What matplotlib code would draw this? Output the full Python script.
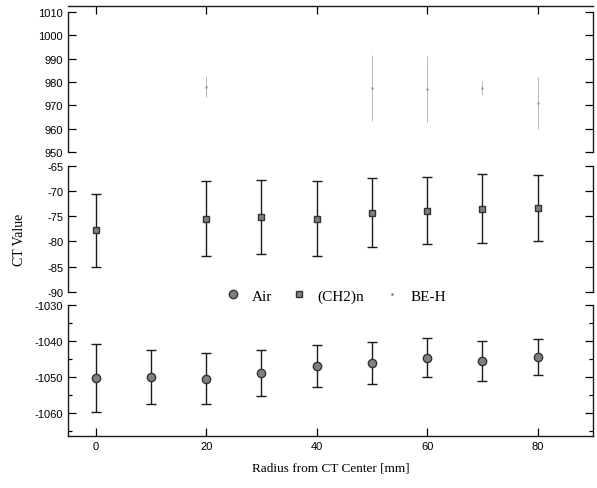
import matplotlib
matplotlib.use('Agg')
from matplotlib import pyplot as plt
from matplotlib.lines import Line2D

plt.rcParams['axes.unicode_minus'] = False

# Air (circles, bottom panel)
air_x = [0, 10, 20, 30, 40, 50, 60, 70, 80]
air_y = [-1050.2, -1049.9, -1050.4, -1048.8, -1046.9, -1046.1, -1044.6, -1045.5, -1044.4]
air_err = [9.4, 7.5, 7.0, 6.4, 5.9, 5.9, 5.4, 5.6, 4.9]

# (CH2)n (squares, middle panel)
ch2_x = [0, 20, 30, 40, 50, 60, 70, 80]
ch2_y = [-77.8, -75.5, -75.2, -75.5, -74.3, -73.9, -73.5, -73.4]
ch2_err = [7.2, 7.5, 7.3, 7.4, 6.9, 6.6, 6.8, 6.5]

# BE-H (faint dots, top panel)
beh_x = [20, 50, 60, 70, 80]
beh_y = [978.0, 977.5, 977.0, 977.3, 971.0]
beh_err = [4.5, 14.0, 14.0, 3.0, 11.0]

tick_font = {'family': 'Liberation Sans', 'size': 8}
serif = 'Liberation Serif'

fig = plt.figure(figsize=(5.97, 4.89), dpi=100)
left, width = 68 / 597, 525 / 597
ax_top = fig.add_axes([left, 0.6865, width, 0.2992])
ax_mid = fig.add_axes([left, 0.4014, width, 0.2577])
ax_bot = fig.add_axes([left, 0.1063, width, 0.2679])

ax_top.errorbar(beh_x, beh_y, yerr=beh_err, fmt='.', color='0.55', ms=2,
                elinewidth=0.7, capsize=0, ls='none', alpha=0.6)
ax_mid.errorbar(ch2_x, ch2_y, yerr=ch2_err, fmt='s', mfc='0.5', mec='0.2',
                ms=5, ecolor='0.1', elinewidth=1.0, capsize=3.5, capthick=1.0)
ax_bot.errorbar(air_x, air_y, yerr=air_err, fmt='o', mfc='0.5', mec='0.2',
                ms=6, ecolor='0.1', elinewidth=1.0, capsize=3.5, capthick=1.0)

ax_top.set_ylim(950, 1012.5)
ax_top.set_yticks(range(950, 1011, 10))
ax_mid.set_ylim(-90, -65)
ax_mid.set_yticks(range(-90, -64, 5))
ax_bot.set_ylim(-1066.3, -1030)
ax_bot.set_yticks(range(-1060, -1029, 10))
ax_bot.set_yticks(range(-1065, -1029, 5), minor=True)

for a in [ax_top, ax_mid, ax_bot]:
    a.set_xlim(-5, 90)
    a.set_xticks(range(0, 81, 20))
    a.tick_params(which='both', direction='in', left=True, right=True,
                  top=False, bottom=False, labelbottom=False, width=0.9)
    a.tick_params(which='major', length=6)
    a.tick_params(which='minor', length=3)
    for s in a.spines.values():
        s.set_linewidth(1.0)
        s.set_color('0.1')
    for lbl in a.get_yticklabels():
        lbl.set_fontfamily(tick_font['family'])
        lbl.set_fontsize(tick_font['size'])
    a.spines['top'].set_visible(False)
    a.spines['bottom'].set_visible(False)

ax_top.spines['top'].set_visible(True)
ax_top.tick_params(top=True)
ax_top.spines['left'].set_bounds(950, 1010)
ax_top.spines['right'].set_bounds(950, 1010)

ax_bot.spines['bottom'].set_visible(True)
ax_bot.tick_params(bottom=True, labelbottom=True)
for lbl in ax_bot.get_xticklabels():
    lbl.set_fontfamily(tick_font['family'])
    lbl.set_fontsize(tick_font['size'])
ax_bot.set_xlabel('Radius from CT Center [mm]', family=serif, fontsize=9.5, labelpad=8)
fig.text(0.032, 0.51, 'CT Value', rotation=90, family=serif, fontsize=10,
         ha='center', va='center')

handles = [
    Line2D([], [], marker='o', ls='none', mfc='0.5', mec='0.2', ms=6),
    Line2D([], [], marker='s', ls='none', mfc='0.5', mec='0.2', ms=5),
    Line2D([], [], marker='.', ls='none', color='0.55', ms=2),
]
fig.legend(handles, ['Air', '(CH2)n', 'BE-H'], loc='center', ncol=3,
           bbox_to_anchor=(0.561, 0.393), frameon=False,
           prop={'family': serif, 'size': 11}, handletextpad=0.6,
           columnspacing=1.2, handlelength=1.2)

fig.savefig('out.png', dpi=100)
